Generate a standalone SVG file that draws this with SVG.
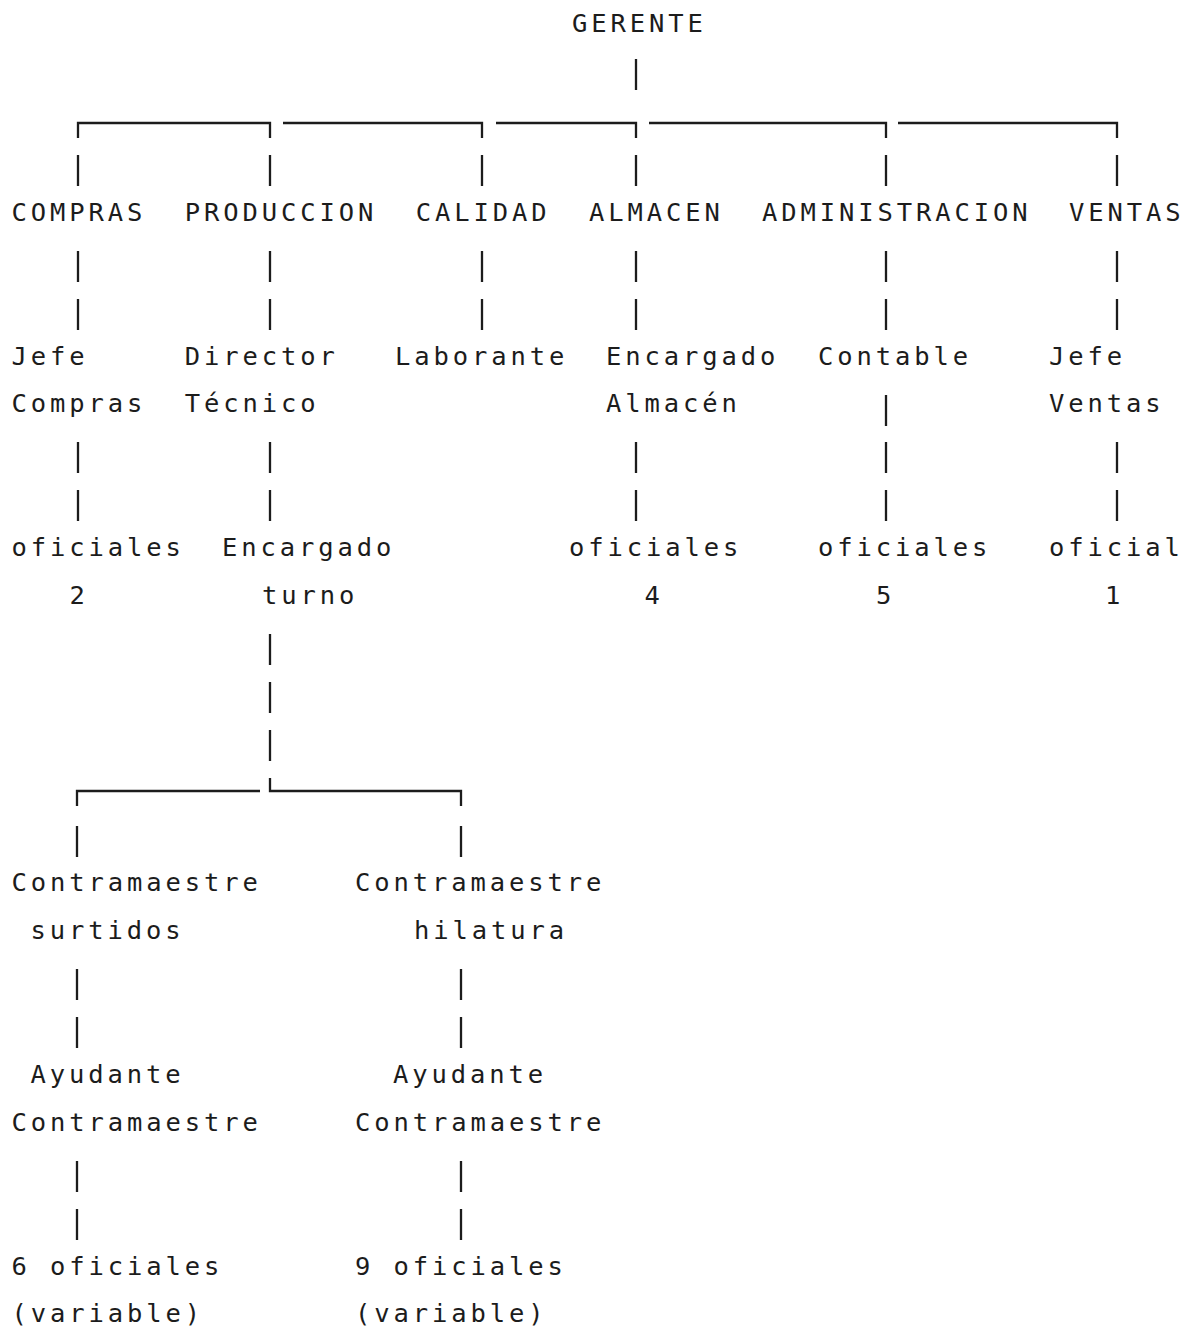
<svg xmlns="http://www.w3.org/2000/svg" width="1190" height="1332" viewBox="0 0 1190 1332">
<style>
text{font-family:"DejaVu Sans Mono","Liberation Mono",monospace;font-size:25.5px;letter-spacing:3.9px;fill:#1c1c1c}
.c path,.c line{stroke:#1c1c1c;stroke-width:2.3;fill:none}
</style>
<rect width="1190" height="1332" fill="#fff"/>
<g class="c" id="connectors">
<line x1="636" y1="59" x2="636" y2="90"/>
<path d="M78,138 V123 H270 V138"/>
<path d="M283,123 H482 V138"/>
<path d="M496,123 H636 V138"/>
<path d="M649,123 H886 V138"/>
<path d="M898,123 H1117 V138"/>
<path d="M78,155 V186 M270,155 V186 M482,155 V186 M636,155 V186 M886,155 V186 M1117,155 V186"/>
<path d="M78,251 V282 M270,251 V282 M482,251 V282 M636,251 V282 M886,251 V282 M1117,251 V282"/>
<path d="M78,299 V330 M270,299 V330 M482,299 V330 M636,299 V330 M886,299 V330 M1117,299 V330"/>
<path d="M886,395 V426"/>
<path d="M78,442 V473 M270,442 V473 M636,442 V473 M886,442 V473 M1117,442 V473"/>
<path d="M78,490 V521 M270,490 V521 M636,490 V521 M886,490 V521 M1117,490 V521"/>
<path d="M270,634 V665 M270,682 V713 M270,730 V761"/>
<path d="M270,778 V791 H461 V806"/>
<path d="M77,806 V791 H260"/>
<path d="M77,826 V857 M461,826 V857"/>
<path d="M77,969 V1000 M461,969 V1000 M77,1017 V1048 M461,1017 V1048"/>
<path d="M77,1161 V1192 M461,1161 V1192 M77,1209 V1240 M461,1209 V1240"/>
</g>
<g id="gerente"><text x="572" y="31.5">GERENTE</text></g>
<g id="compras"><text x="11.5" y="221">COMPRAS</text></g>
<g id="produccion"><text x="184.7" y="221">PRODUCCION</text></g>
<g id="calidad"><text x="415.7" y="221">CALIDAD</text></g>
<g id="almacen"><text x="589" y="221">ALMACEN</text></g>
<g id="administracion"><text x="762" y="221">ADMINISTRACION</text></g>
<g id="ventas"><text x="1069" y="221">VENTAS</text></g>
<g id="jefe-compras"><text x="11.5" y="364.5">Jefe</text><text x="11.5" y="412.4">Compras</text></g>
<g id="director-tecnico"><text x="184.7" y="364.5">Director</text><text x="184.7" y="412.4">Técnico</text></g>
<g id="laborante"><text x="395" y="364.5">Laborante</text></g>
<g id="encargado-almacen"><text x="606" y="364.5">Encargado</text><text x="606" y="412.4">Almacén</text></g>
<g id="contable"><text x="818" y="364.5">Contable</text></g>
<g id="jefe-ventas"><text x="1049" y="364.5">Jefe</text><text x="1049" y="412.4">Ventas</text></g>
<g id="oficiales-compras"><text x="11.5" y="556">oficiales</text><text x="69.5" y="604">2</text></g>
<g id="encargado-turno"><text x="222" y="556">Encargado</text><text x="262" y="604">turno</text></g>
<g id="oficiales-almacen"><text x="569" y="556">oficiales</text><text x="644.5" y="604">4</text></g>
<g id="oficiales-admin"><text x="818" y="556">oficiales</text><text x="876" y="604">5</text></g>
<g id="oficial-ventas"><text x="1049" y="556">oficial</text><text x="1105" y="604">1</text></g>
<g id="contramaestre-surtidos"><text x="11.5" y="891.3">Contramaestre</text><text x="30.5" y="939.2">surtidos</text></g>
<g id="contramaestre-hilatura"><text x="355" y="891.3">Contramaestre</text><text x="414" y="939.2">hilatura</text></g>
<g id="ayudante-surtidos"><text x="30.5" y="1083">Ayudante</text><text x="11.5" y="1131">Contramaestre</text></g>
<g id="ayudante-hilatura"><text x="393" y="1083">Ayudante</text><text x="355" y="1131">Contramaestre</text></g>
<g id="oficiales-surtidos"><text x="11.5" y="1274.6">6 oficiales</text><text x="11.5" y="1322.4">(variable)</text></g>
<g id="oficiales-hilatura"><text x="355" y="1274.6">9 oficiales</text><text x="355" y="1322.4">(variable)</text></g>
</svg>
